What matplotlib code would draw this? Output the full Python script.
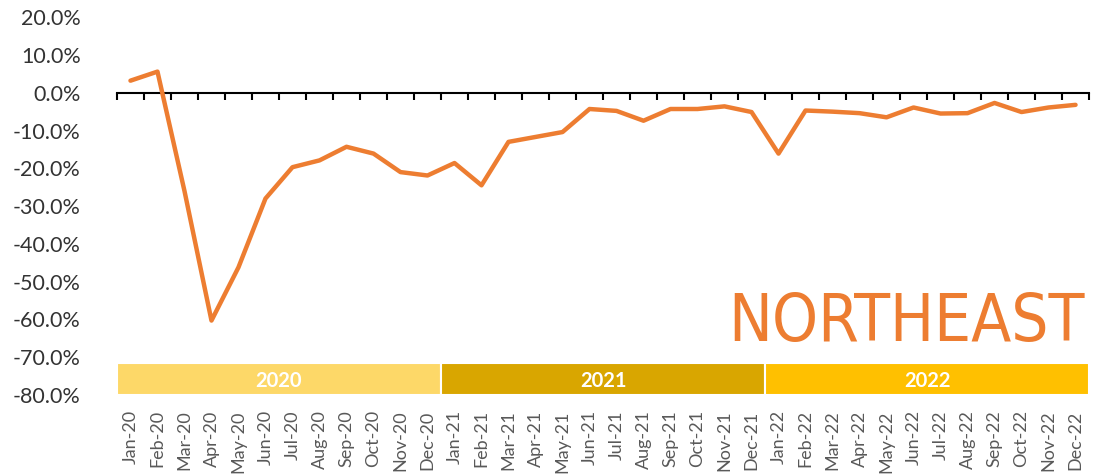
import numpy as np
import matplotlib.pyplot as plt
from matplotlib.ticker import FuncFormatter

plt.rcParams['font.family'] = ['Lato', 'DejaVu Sans']

# monthly change, percent
months = ['Jan-20', 'Feb-20', 'Mar-20', 'Apr-20', 'May-20', 'Jun-20',
          'Jul-20', 'Aug-20', 'Sep-20', 'Oct-20', 'Nov-20', 'Dec-20',
          'Jan-21', 'Feb-21', 'Mar-21', 'Apr-21', 'May-21', 'Jun-21',
          'Jul-21', 'Aug-21', 'Sep-21', 'Oct-21', 'Nov-21', 'Dec-21',
          'Jan-22', 'Feb-22', 'Mar-22', 'Apr-22', 'May-22', 'Jun-22',
          'Jul-22', 'Aug-22', 'Sep-22', 'Oct-22', 'Nov-22', 'Dec-22']
change = [3.2, 5.6, -26.0, -60.3, -46.2, -28.0,
          -19.7, -17.9, -14.3, -16.1, -21.0, -21.9,
          -18.6, -24.5, -13.0, -11.7, -10.4, -4.3,
          -4.8, -7.4, -4.3, -4.3, -3.6, -5.1,
          -16.1, -4.7, -5.0, -5.4, -6.5, -3.9,
          -5.5, -5.4, -2.7, -5.1, -3.9, -3.2]

years = ['2020', '2021', '2022']
year_colors = ['#FDD868', '#D9A600', '#FFC000']

line_color = '#ED7D31'

fig = plt.figure(figsize=(11.14, 4.74), dpi=100)
ax = fig.add_axes([0.105, 0.1667, 0.8726, 0.797])

x = np.arange(len(months))
ax.plot(x, change, color=line_color, lw=3.2, solid_joinstyle='round',
        solid_capstyle='round', zorder=3)

# year band at the bottom
for i, (yr, c) in enumerate(zip(years, year_colors)):
    center = i * 12 + 5.5
    ax.bar(center, 8.5, width=12, bottom=-80, color=c, edgecolor='white',
           linewidth=1.5, zorder=2)
    ax.text(center, -76.2, yr, color='white', fontsize=14.5, fontweight='bold',
            ha='center', va='center', zorder=4)

ax.set_xlim(-0.5, len(months) - 0.5)
ax.set_ylim(-80, 20)
ax.set_yticks(np.arange(-80, 21, 10))
ax.yaxis.set_major_formatter(FuncFormatter(lambda v, p: f'{v:.1f}%'))
ax.tick_params(axis='y', length=0, pad=26, labelsize=15.5, labelcolor='#333333')

for s in ['top', 'right', 'left']:
    ax.spines[s].set_visible(False)

# axis line at zero with ticks between categories
ax.spines['bottom'].set_position(('data', 0))
ax.spines['bottom'].set_linewidth(1.5)
ax.set_xticks(np.arange(-0.5, len(months), 1))
ax.tick_params(axis='x', length=5, width=1.5, direction='out', labelbottom=False)

# month labels at the bottom
sec = ax.secondary_xaxis(0)
sec.set_xticks(x)
sec.set_xticklabels(months, rotation=90)
sec.tick_params(length=0, pad=11, labelsize=13, labelcolor='#595959')
sec.spines['bottom'].set_visible(False)

ax.text(35.35, -65.8, 'NORTHEAST', color=line_color, fontsize=47,
        family='DejaVu Sans', fontstretch='condensed', fontweight='normal',
        ha='right', va='baseline')

fig.savefig('out.png', dpi=100)
